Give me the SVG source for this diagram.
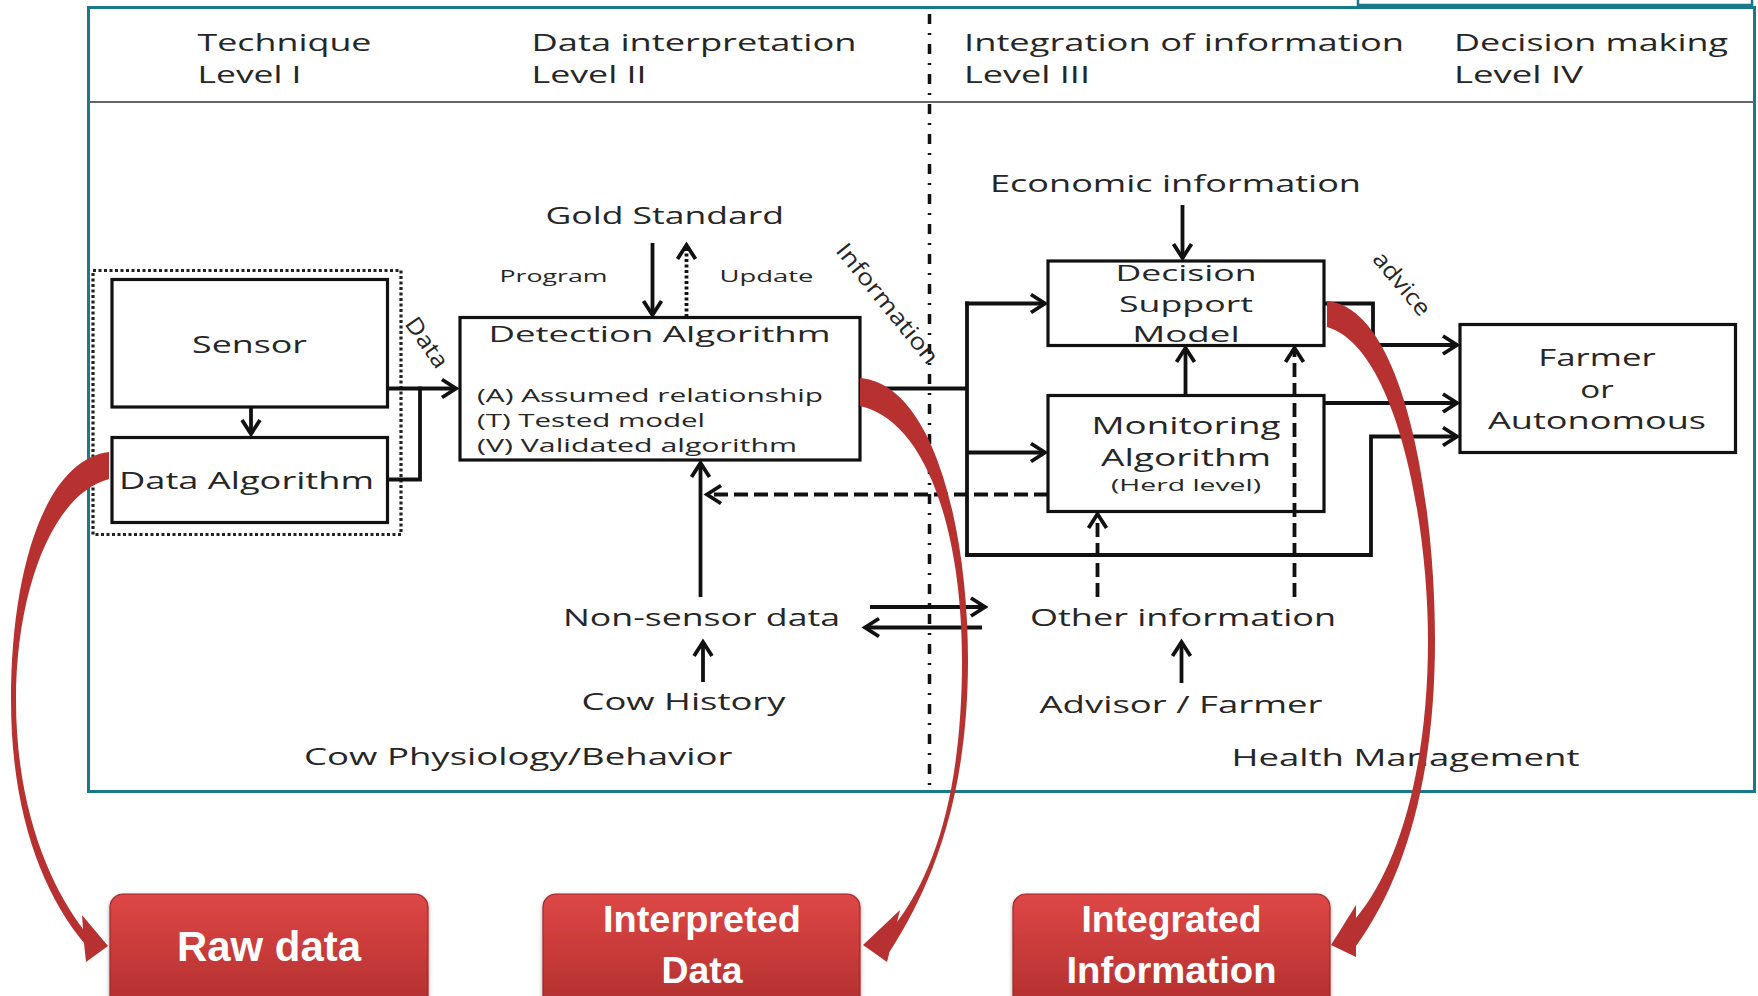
<svg xmlns="http://www.w3.org/2000/svg" width="1758" height="996" viewBox="0 0 1758 996">
<defs>
<style>
.t{font-family:'Open Sans','Noto Sans',sans-serif;fill:#262626;font-weight:500}
.box{fill:#fff;stroke:#111;stroke-width:3.2}
.ln{fill:none;stroke:#111;stroke-width:3.8}
.dash{stroke-dasharray:14 6}
.dot{stroke-dasharray:3 2.5}
.arr{marker-end:url(#ah)}
.rb{font-family:'Liberation Sans',Arial,sans-serif;font-weight:bold;fill:#fff}
.red{fill:#b63130}
</style>
<marker id="ah" markerUnits="userSpaceOnUse" markerWidth="22" markerHeight="26" viewBox="-18 -13 22 26" refX="0" refY="0" orient="auto">
<path d="M-14,-9 L0,0 L-14,9" fill="none" stroke="#111" stroke-width="3.8" stroke-linejoin="miter"/>
</marker>
<linearGradient id="rg" x1="0" y1="0" x2="0" y2="1">
<stop offset="0" stop-color="#de4746"/>
<stop offset="1" stop-color="#ac2c2b"/>
</linearGradient>
<filter id="sh" x="-10%" y="-10%" width="120%" height="130%">
<feDropShadow dx="0" dy="2" stdDeviation="2" flood-color="#000" flood-opacity="0.35"/>
</filter>
</defs>
<rect x="0" y="0" width="1758" height="996" fill="#fff"/>
<rect x="1358" y="-20" width="394" height="25" fill="#fff" stroke="#17798a" stroke-width="2.5"/>
<g id="frame">
<rect x="88.5" y="7.5" width="1666" height="784" fill="#fff" stroke="#17798a" stroke-width="3"/>
<line x1="88.5" y1="102" x2="1754.5" y2="102" stroke="#666" stroke-width="2.2"/>
<line x1="929.5" y1="14" x2="929.5" y2="786" stroke="#111" stroke-width="3.5" stroke-dasharray="10 9 2 9"/>
</g>
<g id="headers">
<text class="t" x="197.5" y="50.5" font-size="23" textLength="174" lengthAdjust="spacingAndGlyphs">Technique</text>
<text class="t" x="197.5" y="82.5" font-size="23" textLength="104" lengthAdjust="spacingAndGlyphs">Level I</text>
<text class="t" x="531.5" y="50.5" font-size="23" textLength="325" lengthAdjust="spacingAndGlyphs">Data interpretation</text>
<text class="t" x="531.5" y="82.5" font-size="23" textLength="115" lengthAdjust="spacingAndGlyphs">Level II</text>
<text class="t" x="964" y="50.5" font-size="23" textLength="440" lengthAdjust="spacingAndGlyphs">Integration of information</text>
<text class="t" x="964" y="82.5" font-size="23" textLength="126" lengthAdjust="spacingAndGlyphs">Level III</text>
<text class="t" x="1454" y="50.5" font-size="23" textLength="274" lengthAdjust="spacingAndGlyphs">Decision making</text>
<text class="t" x="1454" y="82.5" font-size="23" textLength="129" lengthAdjust="spacingAndGlyphs">Level IV</text>
</g>
<g id="sensor-group">
<rect x="93" y="270.5" width="308" height="264" fill="none" stroke="#222" stroke-width="3.2" stroke-dasharray="3 2.5"/>
</g>
<g id="sensor">
<rect class="box" x="112" y="279.5" width="275.5" height="127.5"/>
<text class="t" x="249.5" y="352.5" font-size="24" text-anchor="middle" textLength="115" lengthAdjust="spacingAndGlyphs">Sensor</text>
</g>
<g id="data-algorithm">
<rect class="box" x="112" y="437.5" width="275.5" height="85"/>
<text class="t" x="119" y="488.5" font-size="24" textLength="255" lengthAdjust="spacingAndGlyphs">Data Algorithm</text>
</g>
<g id="detection-algorithm">
<rect class="box" x="460" y="317.5" width="400" height="142.5"/>
<text class="t" x="488.5" y="341.5" font-size="22" textLength="342" lengthAdjust="spacingAndGlyphs">Detection Algorithm</text>
<text class="t" x="477" y="401.5" font-size="19" textLength="346" lengthAdjust="spacingAndGlyphs">(A) Assumed relationship</text>
<text class="t" x="477" y="426.5" font-size="19" textLength="228" lengthAdjust="spacingAndGlyphs">(T) Tested model</text>
<text class="t" x="477" y="451.5" font-size="19" textLength="320" lengthAdjust="spacingAndGlyphs">(V) Validated algorithm</text>
</g>
<g id="gold-standard">
<text class="t" x="545.5" y="223.5" font-size="23" textLength="238.5" lengthAdjust="spacingAndGlyphs">Gold Standard</text>
</g>
<g id="decision-support">
<rect class="box" x="1048" y="261" width="276" height="84.5"/>
<text class="t" x="1186" y="280.5" font-size="22.5" text-anchor="middle" textLength="141" lengthAdjust="spacingAndGlyphs">Decision</text>
<text class="t" x="1186" y="311.5" font-size="22.5" text-anchor="middle" textLength="134" lengthAdjust="spacingAndGlyphs">Support</text>
<text class="t" x="1186" y="342" font-size="22.5" text-anchor="middle" textLength="107.5" lengthAdjust="spacingAndGlyphs">Model</text>
</g>
<g id="economic-information">
<text class="t" x="990" y="191.5" font-size="23" textLength="371" lengthAdjust="spacingAndGlyphs">Economic information</text>
</g>
<g id="monitoring-algorithm">
<rect class="box" x="1048" y="395.5" width="276" height="116"/>
<text class="t" x="1186" y="433.5" font-size="23" text-anchor="middle" textLength="189" lengthAdjust="spacingAndGlyphs">Monitoring</text>
<text class="t" x="1186" y="465.5" font-size="23" text-anchor="middle" textLength="170" lengthAdjust="spacingAndGlyphs">Algorithm</text>
<text class="t" x="1186" y="491" font-size="17" text-anchor="middle" textLength="150" lengthAdjust="spacingAndGlyphs">(Herd level)</text>
</g>
<g id="farmer">
<rect class="box" x="1460" y="324.5" width="275.5" height="128"/>
<text class="t" x="1597" y="366" font-size="23" text-anchor="middle" textLength="117.5" lengthAdjust="spacingAndGlyphs">Farmer</text>
<text class="t" x="1597" y="397.5" font-size="23" text-anchor="middle" textLength="33.5" lengthAdjust="spacingAndGlyphs">or</text>
<text class="t" x="1597" y="429" font-size="23" text-anchor="middle" textLength="218" lengthAdjust="spacingAndGlyphs">Autonomous</text>
</g>
<g id="non-sensor-data">
<text class="t" x="563" y="626" font-size="24" textLength="277" lengthAdjust="spacingAndGlyphs">Non-sensor data</text>
</g>
<g id="cow-history">
<text class="t" x="581.5" y="710" font-size="24" textLength="204" lengthAdjust="spacingAndGlyphs">Cow History</text>
</g>
<g id="other-information">
<text class="t" x="1030" y="626" font-size="24" textLength="306" lengthAdjust="spacingAndGlyphs">Other information</text>
</g>
<g id="advisor-farmer">
<text class="t" x="1039.5" y="712.5" font-size="24" textLength="283" lengthAdjust="spacingAndGlyphs">Advisor / Farmer</text>
</g>
<g id="domain-labels">
<text class="t" x="304" y="765" font-size="24" textLength="428.5" lengthAdjust="spacingAndGlyphs">Cow Physiology/Behavior</text>
<text class="t" x="1231.5" y="766" font-size="24" textLength="348" lengthAdjust="spacingAndGlyphs">Health Management</text>
</g>
<g id="connectors">
<path class="ln arr" d="M251,407 V434"/>
<path class="ln arr" d="M388,388.5 H456"/>
<path class="ln" d="M387.5,479.5 H420 V386.6"/>
<path class="ln arr" d="M652.5,243 V315"/>
<path class="ln dot arr" d="M686.5,317 V245"/>
<path class="ln" d="M860,388.5 H967 M967,301.6 V556.9"/>
<path class="ln arr" d="M965.1,303.5 H1045"/>
<path class="ln arr" d="M967,452.5 H1045"/>
<path class="ln arr" d="M965.1,555 H1371 V436.5 H1457"/>
<path class="ln arr" d="M1182.5,205 V258"/>
<path class="ln arr" d="M1185.5,395 V348"/>
<path class="ln dash arr" d="M1294.5,597 V348"/>
<path class="ln dash arr" d="M1097.5,597 V514"/>
<path class="ln dash arr" d="M1048,494.5 H707"/>
<path class="ln arr" d="M700.5,597 V463"/>
<path class="ln arr" d="M1324,303.5 H1373 V345 H1457"/>
<path class="ln arr" d="M1324,403 H1457"/>
<path class="ln arr" d="M703,682 V642"/>
<path class="ln arr" d="M1181.5,683 V642"/>
<path class="ln arr" d="M870,607 H985"/>
<path class="ln arr" d="M982,627.5 H865"/>
</g>
<g id="connector-labels">
<text class="t" x="499.5" y="281.5" font-size="17" textLength="108" lengthAdjust="spacingAndGlyphs">Program</text>
<text class="t" x="719.5" y="281.5" font-size="17" textLength="94" lengthAdjust="spacingAndGlyphs">Update</text>
<text class="t" x="0" y="8" font-size="23" text-anchor="middle" textLength="57" lengthAdjust="spacingAndGlyphs" transform="translate(427,342.5) rotate(55)">Data</text>
<text class="t" x="0" y="8" font-size="23" text-anchor="middle" textLength="148" lengthAdjust="spacingAndGlyphs" transform="translate(887.5,303.5) rotate(51)">Information</text>
<text class="t" x="0" y="8" font-size="23" text-anchor="middle" textLength="76" lengthAdjust="spacingAndGlyphs" transform="translate(1402,283.5) rotate(50)">advice</text>
</g>
<g id="red-arrows">
<path class="red" d="M109,452 C45,460 11,570 11,700 C11,812 42,892 84,943 L86,962 L108,946 L82,915 L83,929 C52,888 16,812 16,700 C16,592 52,494 109,479 Z"/>
<path class="red" d="M860,378 C934,384 968,530 968,660 C968,790 936,880 889.5,952 L887,962 L863,945 L900,910 L897,922 C935,872 962,790 962,660 C962,540 930,422 860,406 Z"/>
<path class="red" d="M1327,301 C1404,308 1435,500 1435,640 C1435,780 1404,880 1356,946 L1356,957 L1331,945 L1356,905 L1356,918 C1398,868 1428,770 1428,640 C1428,520 1396,347 1327,327 Z"/>
</g>
<g id="raw-data">
<rect x="110" y="894" width="318" height="130" rx="13" fill="url(#rg)" stroke="#9e2726" stroke-width="1.2" filter="url(#sh)"/>
<text class="rb" x="269" y="960.5" font-size="43" text-anchor="middle" textLength="184" lengthAdjust="spacingAndGlyphs">Raw data</text>
</g>
<g id="interpreted-data">
<rect x="543" y="894" width="317" height="130" rx="13" fill="url(#rg)" stroke="#9e2726" stroke-width="1.2" filter="url(#sh)"/>
<text class="rb" x="702" y="931.5" font-size="37" text-anchor="middle" textLength="198" lengthAdjust="spacingAndGlyphs">Interpreted</text>
<text class="rb" x="702" y="983" font-size="37" text-anchor="middle" textLength="81" lengthAdjust="spacingAndGlyphs">Data</text>
</g>
<g id="integrated-information">
<rect x="1013" y="894" width="317" height="130" rx="13" fill="url(#rg)" stroke="#9e2726" stroke-width="1.2" filter="url(#sh)"/>
<text class="rb" x="1171.5" y="931.5" font-size="37" text-anchor="middle" textLength="180" lengthAdjust="spacingAndGlyphs">Integrated</text>
<text class="rb" x="1171.5" y="983" font-size="37" text-anchor="middle" textLength="210" lengthAdjust="spacingAndGlyphs">Information</text>
</g>
</svg>
